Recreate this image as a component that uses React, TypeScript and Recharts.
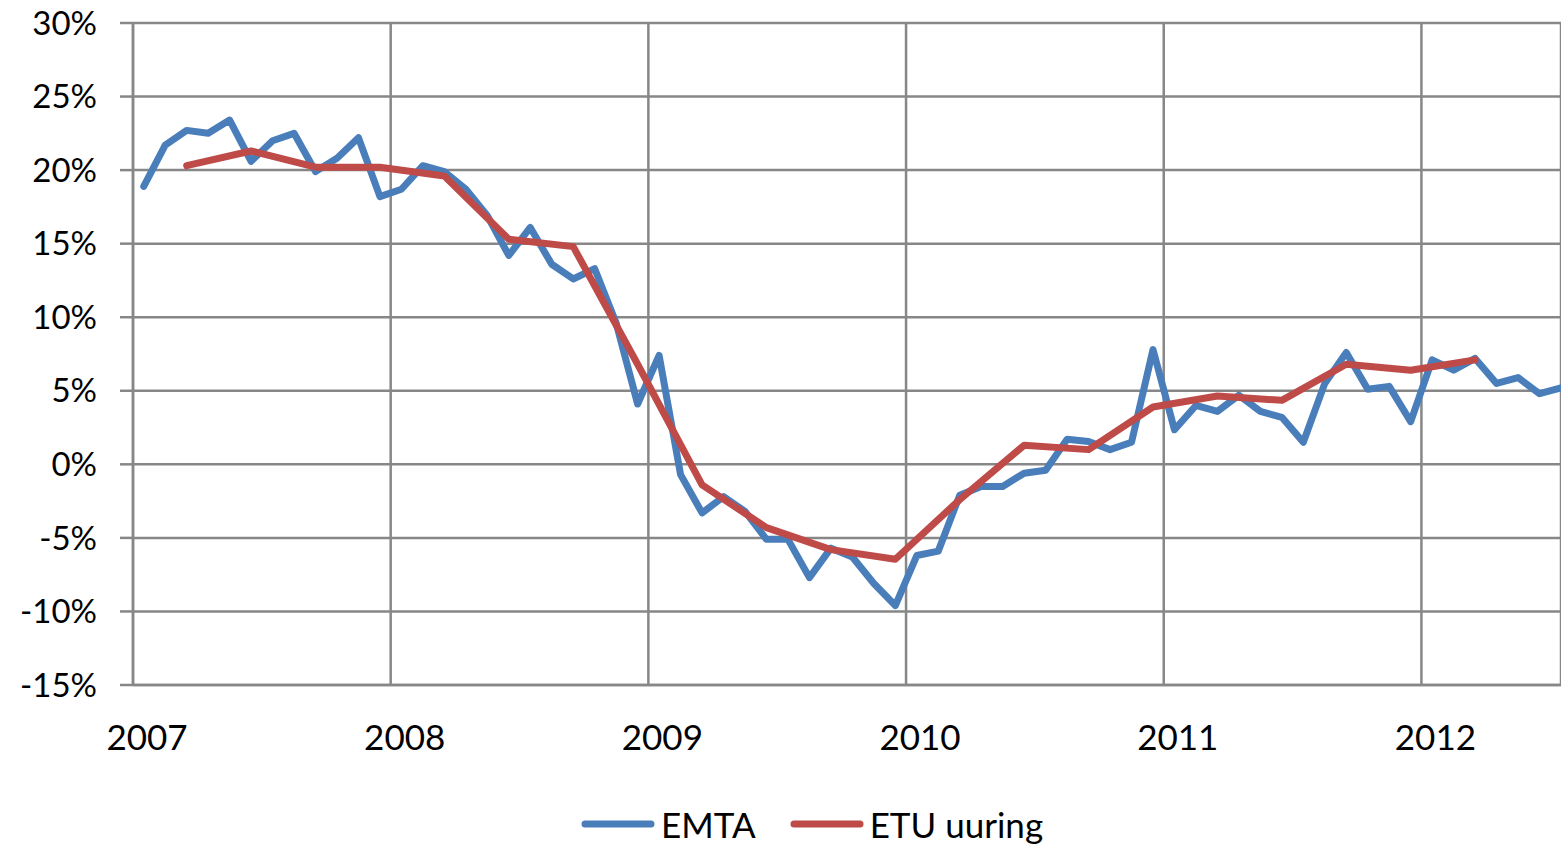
import { LineChart, Line, XAxis, YAxis, CartesianGrid, Legend } from 'recharts';

// monthly EMTA series, Jan 2007 .. Jul 2012 (% change)
const emtaValues = [
  18.9, 21.7, 22.7, 22.5, 23.4, 20.6, 22.0, 22.5, 19.9, 20.8, 22.2, 18.2,
  18.7, 20.3, 19.9, 18.7, 16.9, 14.2, 16.1, 13.6, 12.6, 13.3, 9.6, 4.1,
  7.4, -0.7, -3.3, -2.2, -3.2, -5.1, -5.1, -7.7, -5.7, -6.3, -8.1, -9.6,
  -6.2, -5.9, -2.1, -1.5, -1.5, -0.6, -0.4, 1.7, 1.55, 1.0, 1.5, 7.8,
  2.35, 4.0, 3.6, 4.7, 3.6, 3.2, 1.5, 5.5, 7.6, 5.1, 5.3, 2.9,
  7.1, 6.4, 7.2, 5.5, 5.9, 4.8, 5.2,
];

// quarterly ETU survey, Q1 2007 .. Q1 2012 (quarter-end month)
const etuValues = [
  20.3, 21.3, 20.2, 20.2, 19.6, 15.3, 14.8, 6.8, -1.4, -4.3, -5.8,
  -6.45, -2.4, 1.3, 1.0, 3.9, 4.65, 4.35, 6.8, 6.4, 7.1,
];

const yearLabels = ['2007', '2008', '2009', '2010', '2011', '2012'];
const yTicks = [-15, -10, -5, 0, 5, 10, 15, 20, 25, 30];

const BLUE = '#4a7ebb';
const RED = '#be4b48';
const GRID = '#878787';
const FONT = 'Lato, "Open Sans", sans-serif';

// months counted from Jan 2007, points sit mid-month
const emtaData = emtaValues.map((v, i) => ({ month: i + 0.5, value: v }));
const etuData = etuValues.map((v, i) => ({ month: 2 + i * 3 + 0.5, value: v }));
const yearTicks = yearLabels.map((_, i) => i * 12);

function YearTick(props: any) {
  const { x, y, payload } = props;
  const label = yearLabels[Math.round(payload.value / 12)];
  return (
    <text x={x + 14} y={y + 57} textAnchor="middle" fontSize={35} fill="#000" fontFamily={FONT}>
      {label}
    </text>
  );
}

function LegendContent() {
  const items = [
    { name: 'EMTA', color: BLUE },
    { name: 'ETU uuring', color: RED },
  ];
  return (
    <div
      style={{
        height: 48,
        display: 'flex',
        alignItems: 'center',
        paddingLeft: 581,
        fontFamily: FONT,
        fontSize: 35,
        color: '#000',
      }}
    >
      {items.map((it) => (
        <div key={it.name} style={{ display: 'flex', alignItems: 'center', marginRight: 34 }}>
          <svg width={74} height={12}>
            <line x1={4} y1={6} x2={70} y2={6} stroke={it.color} strokeWidth={7} strokeLinecap="round" />
          </svg>
          <span style={{ marginLeft: 6 }}>{it.name}</span>
        </div>
      ))}
    </div>
  );
}

export default function App() {
  return (
    <div style={{ position: 'absolute', left: 0, top: 0, background: '#fff' }}>
      <LineChart
        width={1561}
        height={848}
        margin={{ top: 23, right: 0, bottom: 0, left: 0 }}
        style={{ fontFamily: FONT }}
      >
        <CartesianGrid stroke={GRID} strokeWidth={2.5} />
        <XAxis
          type="number"
          dataKey="month"
          domain={[0, 66.5]}
          ticks={yearTicks}
          allowDataOverflow
          height={115}
          tick={<YearTick />}
          tickLine={false}
          axisLine={{ stroke: GRID, strokeWidth: 2.5 }}
        />
        <YAxis
          type="number"
          domain={[-15, 30]}
          ticks={yTicks}
          width={133}
          tickSize={13}
          tickMargin={23}
          tickLine={{ stroke: GRID, strokeWidth: 2.5 }}
          axisLine={{ stroke: GRID, strokeWidth: 2.5 }}
          tick={{ fontSize: 33, fill: '#000', fontFamily: FONT }}
          tickFormatter={(v) => `${v}%`}
        />
        <Legend verticalAlign="bottom" content={<LegendContent />} />
        <Line
          data={emtaData}
          dataKey="value"
          name="EMTA"
          type="linear"
          stroke={BLUE}
          strokeWidth={7}
          strokeLinejoin="round"
          strokeLinecap="round"
          dot={false}
          activeDot={false}
          isAnimationActive={false}
        />
        <Line
          data={etuData}
          dataKey="value"
          name="ETU uuring"
          type="linear"
          stroke={RED}
          strokeWidth={7}
          strokeLinejoin="round"
          strokeLinecap="round"
          dot={false}
          activeDot={false}
          isAnimationActive={false}
        />
      </LineChart>
    </div>
  );
}
